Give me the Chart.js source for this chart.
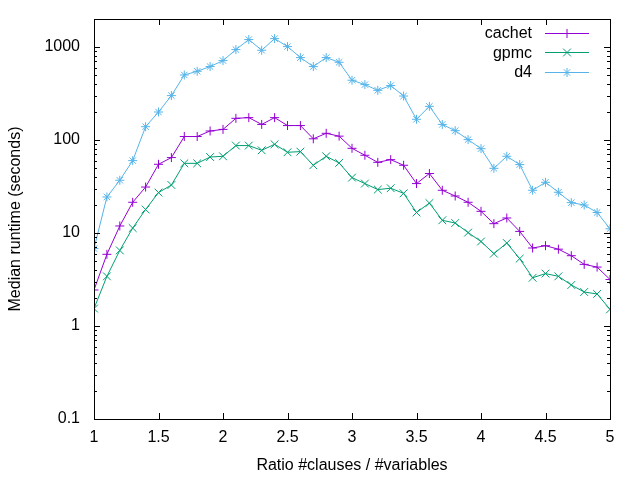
<!DOCTYPE html>
<html>
<head>
<meta charset="utf-8">
<script src="https://cdn.jsdelivr.net/npm/chart.js@4.4.1/dist/chart.umd.min.js"></script>
<style>
  html, body { margin: 0; padding: 0; background: #fff; }
  #wrap { width: 640px; height: 480px; }
</style>
</head>
<body>
<div id="wrap"><canvas id="myChart" width="640" height="480"></canvas></div>
<script>
const ratios = [1.0, 1.1, 1.2, 1.3, 1.4, 1.5, 1.6, 1.7, 1.8, 1.9,
  2.0, 2.1, 2.2, 2.3, 2.4, 2.5, 2.6, 2.7, 2.8, 2.9,
  3.0, 3.1, 3.2, 3.3, 3.4, 3.5, 3.6, 3.7, 3.8, 3.9,
  4.0, 4.1, 4.2, 4.3, 4.4, 4.5, 4.6, 4.7, 4.8, 4.9, 5.0];

const cachet = [2.44, 5.9, 11.9, 21.4, 31.2, 54.8, 64.7, 109, 109, 125,
  130, 171, 174, 147, 174, 143, 143, 103, 118, 110,
  81.4, 68.5, 57.5, 61.5, 53.5, 34.0, 43.6, 28.8, 25.0, 21.4,
  17.1, 12.6, 14.5, 10.4, 6.9, 7.3, 6.7, 5.7, 4.6, 4.3, 3.16];

const gpmc = [1.54, 3.42, 6.5, 11.3, 17.9, 27.2, 32.8, 56.1, 56.1, 65.6,
  66.8, 87.1, 87.1, 77.5, 89.9, 73.8, 75.0, 53.5, 66.8, 56.6,
  39.4, 34.0, 29.3, 30.3, 26.7, 16.6, 21.0, 13.7, 12.8, 10.1,
  8.1, 6.0, 7.8, 5.3, 3.3, 3.66, 3.42, 2.76, 2.32, 2.21, 1.51];

const d4 = [6.8, 24.4, 36.9, 60, 139, 200, 300, 500, 548, 616,
  714, 938, 1202, 922, 1231, 1010, 769, 616, 769, 685,
  439, 394, 342, 385, 297, 167, 230, 147, 126, 101,
  80.7, 49.6, 66.8, 54.4, 28.8, 35.1, 27.4, 21.2, 20.0, 16.6, 11.1];

const xTicks = [1, 1.5, 2, 2.5, 3, 3.5, 4, 4.5, 5];
const yTicks = [0.1, 1, 10, 100, 1000];

const FONT = 'Liberation Sans, Arial, sans-serif';

function points(values) {
  return values.map(function(v, i) { return { x: ratios[i], y: v }; });
}

// gnuplot style frame: border plus inward ticks on all four sides
const framePlugin = {
  id: 'frame',
  afterDatasetsDraw: function(chart) {
    const c = chart.ctx;
    const a = chart.chartArea;
    const xs = chart.scales.x;
    const ys = chart.scales.y;
    c.save();
    c.strokeStyle = '#000';
    c.lineWidth = 1;
    c.beginPath();
    xTicks.forEach(function(t) {
      const px = Math.round(xs.getPixelForValue(t)) + 0.5;
      c.moveTo(px, a.bottom); c.lineTo(px, a.bottom - 6);
      c.moveTo(px, a.top); c.lineTo(px, a.top + 6);
    });
    for (let d = 0.1; d < 3000; d *= 10) {
      for (let m = 1; m <= 9; m++) {
        const v = d * m;
        if (v < ys.min - 1e-9 || v > ys.max + 1e-9) continue;
        const len = m === 1 ? 6 : 3;
        const py = Math.round(ys.getPixelForValue(v)) + 0.5;
        c.moveTo(a.left, py); c.lineTo(a.left + len, py);
        c.moveTo(a.right, py); c.lineTo(a.right - len, py);
      }
    }
    c.stroke();
    c.strokeRect(Math.round(a.left) + 0.5, Math.round(a.top) + 0.5,
      Math.round(a.right - a.left), Math.round(a.bottom - a.top));
    c.restore();
  }
};

// key in the top right corner, text to the left of the sample
const keyPlugin = {
  id: 'key',
  afterDraw: function(chart) {
    const c = chart.ctx;
    c.save();
    c.font = '16px ' + FONT;
    c.textAlign = 'right';
    c.textBaseline = 'middle';
    chart.data.datasets.forEach(function(ds, i) {
      const y = 32.5 + i * 19.7;
      c.fillStyle = '#000';
      c.fillText(ds.label, 532, y + 1);
      c.strokeStyle = ds.borderColor;
      c.lineWidth = 1;
      c.beginPath();
      c.moveTo(545, Math.round(y) + 0.5);
      c.lineTo(589, Math.round(y) + 0.5);
      c.stroke();
      Chart.helpers.drawPoint(c, {
        pointStyle: ds.pointStyle,
        radius: ds.pointRadius,
        borderWidth: 1
      }, 567, Math.round(y) + 0.5);
    });
    c.restore();
  }
};

function series(label, values, color, style, radius) {
  return {
    label: label,
    data: points(values),
    borderColor: color,
    backgroundColor: color,
    borderWidth: 1,
    pointStyle: style,
    pointRadius: radius,
    pointBorderColor: color,
    pointBorderWidth: 1,
    pointHoverRadius: radius,
    tension: 0
  };
}

const ctx = document.getElementById('myChart').getContext('2d');
const chart = new Chart(ctx, {
  type: 'line',
  data: {
    datasets: [
      series('cachet', cachet, '#9400d3', 'cross', 4.5),
      series('gpmc', gpmc, '#009e73', 'crossRot', 5.5),
      series('d4', d4, '#56b4e9', 'star', 4.5)
    ]
  },
  options: {
    responsive: false,
    animation: false,
    devicePixelRatio: 1,
    layout: { padding: { top: 19, right: 30, left: 0, bottom: 0 } },
    plugins: {
      legend: { display: false },
      tooltip: { enabled: false }
    },
    scales: {
      x: {
        type: 'linear',
        min: 1,
        max: 5,
        border: { display: false },
        grid: { display: false, drawTicks: false },
        afterBuildTicks: function(scale) {
          scale.ticks = xTicks.map(function(v) { return { value: v }; });
        },
        afterFit: function(scale) {
          scale.height = 61;
          scale.paddingLeft = 0;
          scale.paddingRight = 0;
        },
        ticks: {
          padding: 9,
          color: '#000',
          font: { family: FONT, size: 16 },
          maxRotation: 0,
          callback: function(v) { return String(v); }
        },
        title: {
          display: true,
          text: 'Ratio #clauses / #variables',
          color: '#000',
          font: { family: FONT, size: 16 },
          padding: { top: 0, bottom: 5 }
        }
      },
      y: {
        type: 'logarithmic',
        min: 0.1,
        max: 2000,
        border: { display: false },
        grid: { display: false, drawTicks: false },
        afterBuildTicks: function(scale) {
          scale.ticks = yTicks.map(function(v) { return { value: v }; });
        },
        afterFit: function(scale) {
          scale.width = 94;
          scale.paddingTop = 0;
          scale.paddingBottom = 0;
        },
        ticks: {
          padding: 14,
          color: '#000',
          font: { family: FONT, size: 16 },
          callback: function(v) { return String(v); }
        },
        title: {
          display: true,
          text: 'Median runtime (seconds)',
          color: '#000',
          font: { family: FONT, size: 16 },
          padding: { top: 6, bottom: 0 }
        }
      }
    }
  },
  plugins: [framePlugin, keyPlugin]
});
</script>
</body>
</html>
